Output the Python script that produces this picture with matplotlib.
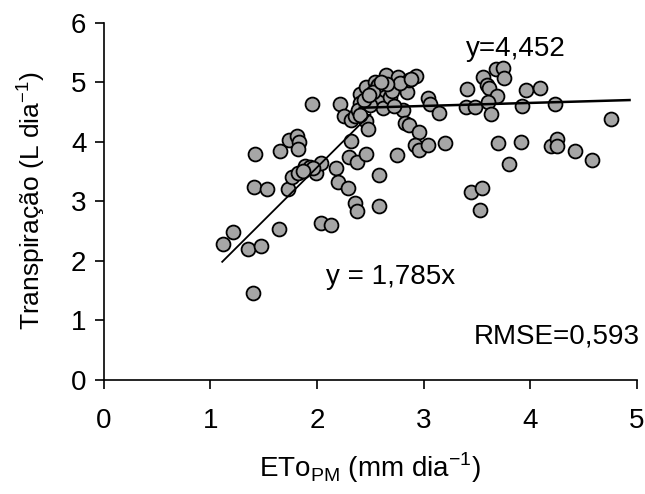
import matplotlib
matplotlib.use("Agg")
import matplotlib.pyplot as plt
import numpy as np

plt.rcParams['font.family'] = ['Liberation Sans', 'DejaVu Sans']
plt.rcParams['mathtext.fontset'] = 'custom'
plt.rcParams['mathtext.rm'] = 'Liberation Sans'

# Reference evapotranspiration (mm/day) and plant transpiration (L/day)
eto = [1.12, 1.21, 1.35, 1.40, 1.47, 1.41, 1.42, 1.53, 1.64, 1.65,
       1.73, 1.74, 1.81, 1.83, 1.82, 1.76, 1.82, 1.89, 1.93, 1.99,
       2.04, 1.95, 2.04, 2.13, 2.18, 2.20, 2.29, 2.21, 2.25, 2.32,
       2.36, 2.32, 2.30, 2.37, 2.36, 2.37, 2.40, 2.40, 2.46, 2.48,
       2.46, 2.38, 2.40, 2.48, 2.46, 2.54, 2.56, 2.53, 2.60, 2.62,
       2.58, 2.58, 2.65, 2.64, 2.68, 2.76, 2.75, 2.81, 2.84, 2.86,
       2.93, 2.82, 2.86, 2.96, 2.92, 2.96, 3.04, 3.20, 3.04, 3.06,
       3.14, 3.41, 3.40, 3.48, 3.44, 3.55, 3.53, 3.56, 3.59, 3.61,
       3.69, 3.68, 3.74, 3.75, 3.60, 3.63, 3.70, 3.80, 3.91, 3.92,
       3.96, 4.09, 4.23, 4.19, 4.25, 4.25, 4.42, 4.58, 4.76,
       2.50, 2.57, 2.70, 2.72, 2.78, 2.88, 2.44, 2.52, 2.66, 2.60,
       2.49, 1.96, 1.87]
transp = [2.28, 2.48, 2.19, 1.45, 2.25, 3.24, 3.79, 3.21, 2.53, 3.84,
          3.21, 4.03, 4.10, 4.00, 3.88, 3.40, 3.47, 3.59, 3.57, 3.47,
          3.64, 4.63, 2.64, 2.60, 3.55, 3.33, 3.23, 4.63, 4.44, 4.36,
          4.44, 4.02, 3.75, 3.66, 2.97, 2.83, 4.80, 4.65, 4.35, 4.22,
          3.79, 4.53, 4.45, 4.90, 4.92, 5.01, 4.92, 4.71, 4.70, 4.56,
          3.44, 2.92, 5.12, 4.87, 4.75, 5.09, 3.77, 4.53, 4.84, 5.04,
          5.11, 4.31, 4.28, 4.16, 3.94, 3.86, 3.94, 3.97, 4.74, 4.63,
          4.48, 4.89, 4.58, 4.58, 3.16, 3.23, 2.86, 5.09, 4.95, 4.90,
          4.76, 5.23, 5.24, 5.07, 4.67, 4.46, 3.97, 3.63, 4.00, 4.60,
          4.87, 4.91, 4.63, 3.92, 4.04, 3.93, 3.85, 3.69, 4.38,
          4.62, 4.95, 4.85, 4.60, 4.98, 5.06, 4.70, 4.83, 4.97, 5.00,
          4.78, 3.55, 3.50]

# Fitted segments: linear part and plateau part
slope = 1.785
lin_x = [1.11, 2.50]
plateau_x = [2.40, 4.93]
plateau_y = [4.57, 4.70]

fig = plt.figure(figsize=(6.45, 4.94), dpi=100)
ax = fig.add_axes([0.161, 0.2314, 0.8266, 0.7226])

ax.scatter(eto, transp, s=100, facecolor='#a6a6a6', edgecolor='black',
           linewidth=1.3, zorder=3)
lx = np.array(lin_x)
ax.plot(lx, slope * lx, color='black', lw=1.3, zorder=4)
ax.plot(plateau_x, plateau_y, color='black', lw=1.8, zorder=4)

ax.set_xlim(0, 5)
ax.set_ylim(0, 6)
ax.set_xticks(range(0, 6))
ax.set_yticks(range(0, 7))
for s in ['top', 'right']:
    ax.spines[s].set_visible(False)
for s in ['left', 'bottom']:
    ax.spines[s].set_linewidth(1.2)
ax.tick_params(axis='both', labelsize=20, width=1.2, length=6.5, direction='out')
ax.tick_params(axis='x', pad=14)
ax.tick_params(axis='y', pad=6)

ax.set_xlabel(r'ETo$_{\mathregular{PM}}$ (mm dia$^{\mathregular{-1}}$)',
              fontsize=20, labelpad=12)
ax.set_ylabel(r'Transpiração (L dia$^{\mathregular{-1}}$)', fontsize=19,
              labelpad=17)

ax.text(3.86, 5.56, 'y=4,452', fontsize=20, ha='center', va='center')
ax.text(2.69, 1.73, 'y = 1,785x', fontsize=20, ha='center', va='center')
ax.text(5.03, 0.72, 'RMSE=0,593', fontsize=20, ha='right', va='center')

fig.savefig('out.png', dpi=100)
